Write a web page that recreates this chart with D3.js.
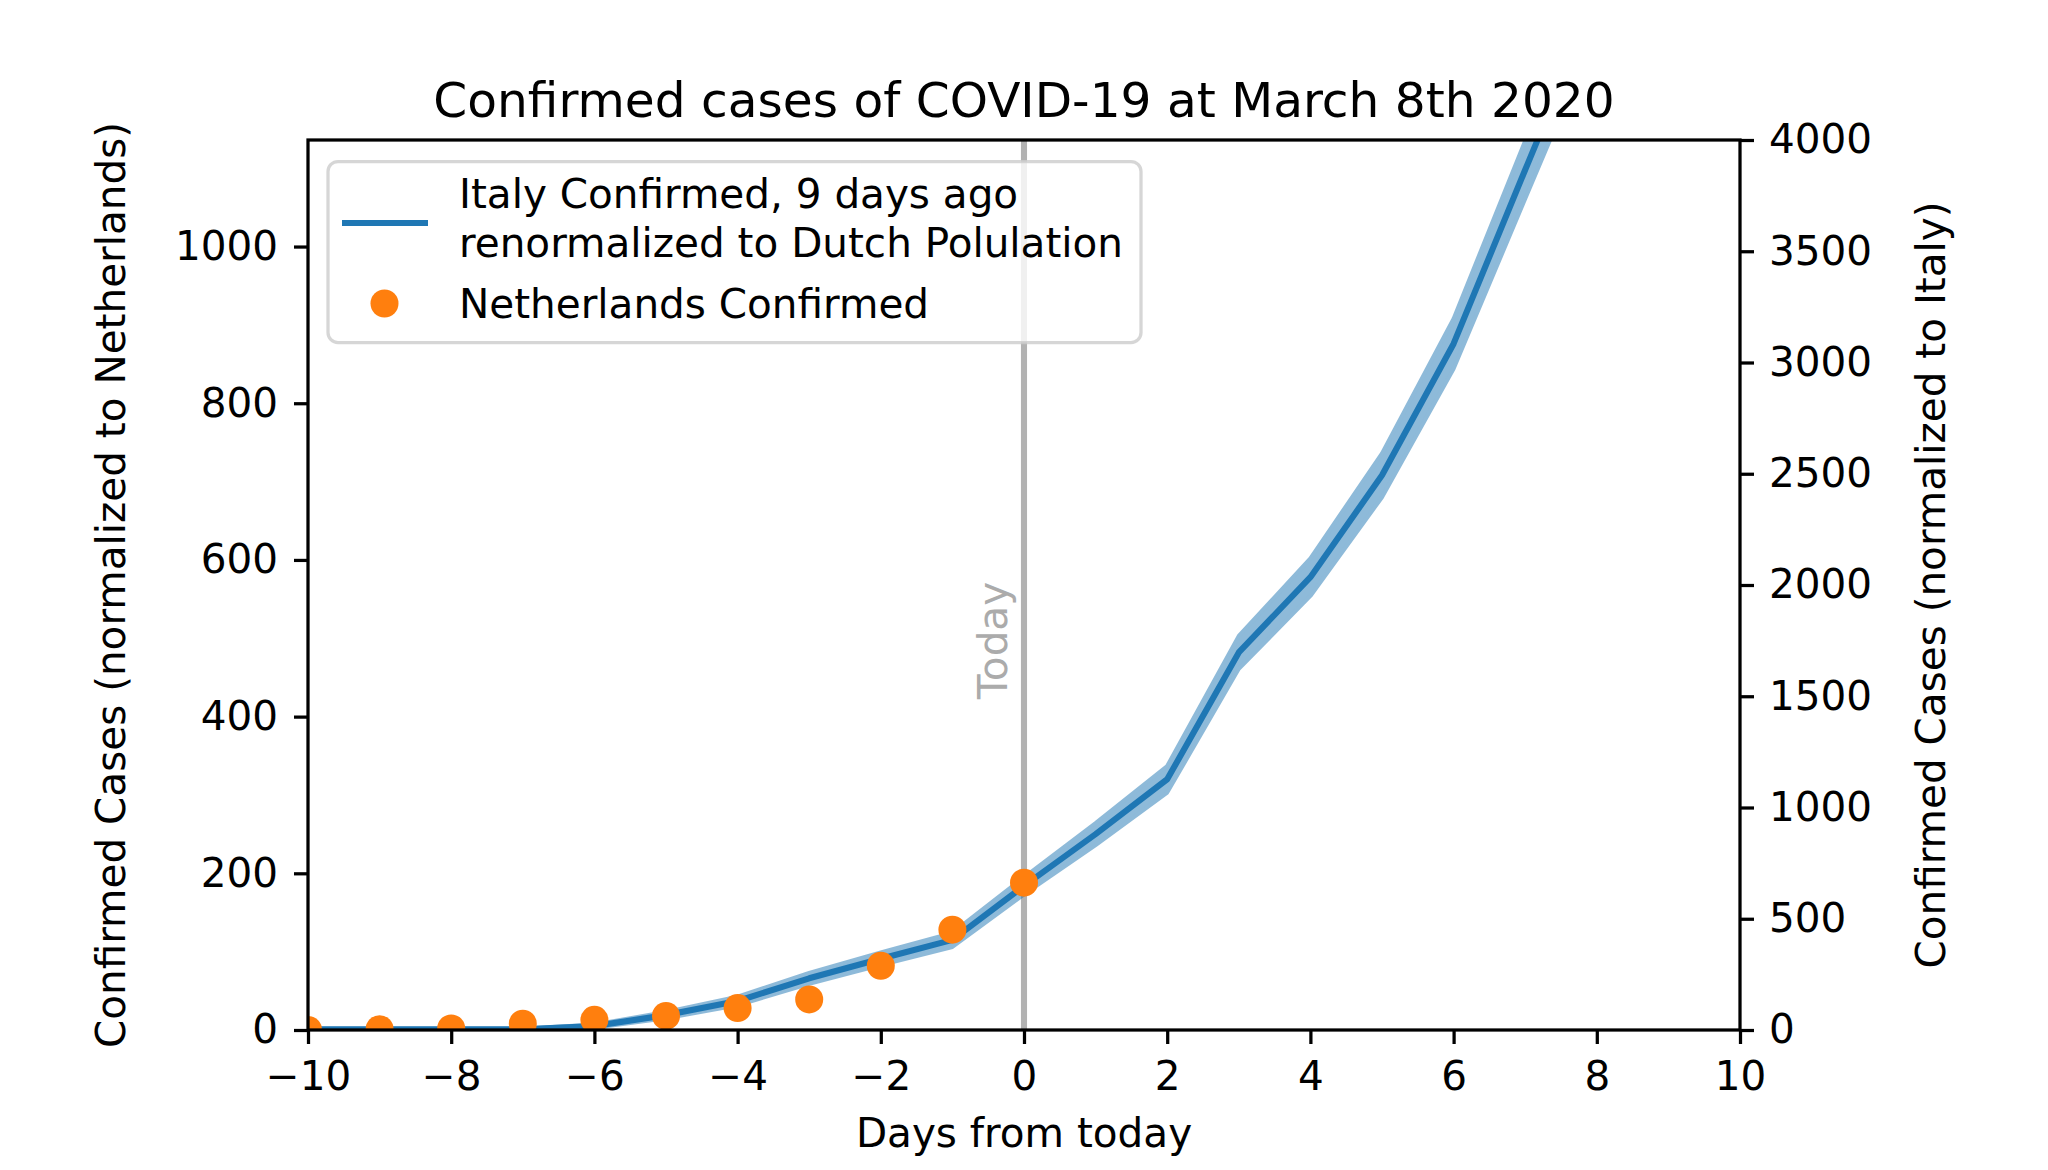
<!DOCTYPE html>
<html>
<head>
<meta charset="utf-8">
<script src="https://cdn.jsdelivr.net/npm/d3@7"></script>
<style>
  html, body { margin: 0; padding: 0; background: #ffffff; }
  svg text { font-family: "DejaVu Sans", sans-serif; }
</style>
</head>
<body>
<svg id="chart" width="2048" height="1170"></svg>
<script>
// ---------------- data ----------------
const italyDays  = [-10, -9, -8, -7, -6, -5, -4, -3, -2, -1, 0, 1, 2, 3, 4, 5, 6, 7, 8];
const italyCases = [1, 1, 1, 1, 5, 19, 37, 66, 91, 115, 184, 250, 320, 482, 578, 708, 876, 1098, 1318];
const italyBand  = [0.5, 0.5, 0.5, 0.5, 2, 4, 5.5, 7, 8, 9, 11, 14, 17, 21, 24, 28, 32, 37, 41];

const nlDays  = [-10, -9, -8, -7, -6, -5, -4, -3, -2, -1, 0];
const nlCases = [0, 1, 2, 8, 13, 18, 28, 39, 82, 128, 188];

const xDomain = [-10, 10];
const xTicks = [-10, -8, -6, -4, -2, 0, 2, 4, 6, 8, 10];
const yLeftDomain = [0, 1136];
const yLeftTicks = [0, 200, 400, 600, 800, 1000];
const yRightDomain = [0, 4000];
const yRightTicks = [0, 500, 1000, 1500, 2000, 2500, 3000, 3500, 4000];
const todayDay = 0;

const titleText = "Confirmed cases of COVID-19 at March 8th 2020";
const xLabel = "Days from today";
const yLeftLabel = "Confirmed Cases (normalized to Netherlands)";
const yRightLabel = "Confirmed Cases (normalized to Italy)";
const legendItaly = ["Italy Confirmed, 9 days ago", "renormalized to Dutch Polulation"];
const legendNL = "Netherlands Confirmed";

// ---------------- layout ----------------
const L = 308, R = 1740, T = 140, B = 1030;
const C0 = "#1f77b4", C1 = "#ff7f0e";
const FS = 40.5, FT = 48.6;

const svg = d3.select("#chart");
const x = d3.scaleLinear().domain(xDomain).range([L, R]);
const yL = d3.scaleLinear().domain(yLeftDomain).range([B, T]);
const yR = d3.scaleLinear().domain(yRightDomain).range([B, T]);

svg.append("rect").attr("width", 2048).attr("height", 1170).attr("fill", "#fff");

svg.append("defs").append("clipPath").attr("id", "plotclip")
  .append("rect").attr("x", L).attr("y", T).attr("width", R - L).attr("height", B - T);

const plot = svg.append("g").attr("clip-path", "url(#plotclip)");

// vertical "today" line
plot.append("line")
  .attr("x1", x(todayDay)).attr("x2", x(todayDay))
  .attr("y1", T).attr("y2", B)
  .attr("stroke", "#b2b2b2").attr("stroke-width", 6.1);

// Italy band
const italy = italyDays.map((d, i) => ({d, v: italyCases[i], e: italyBand[i]}));
const area = d3.area().x(p => x(p.d)).y0(p => yL(p.v - p.e)).y1(p => yL(p.v + p.e));
plot.append("g").attr("opacity", 0.5)
  .append("path").datum(italy).attr("d", area)
  .attr("fill", C0).attr("stroke", C0).attr("stroke-width", 4)
  .attr("stroke-linejoin", "round");

// Italy line
const line = d3.line().x(p => x(p.d)).y(p => yL(p.v));
plot.append("path").datum(italy).attr("d", line)
  .attr("fill", "none").attr("stroke", C0).attr("stroke-width", 6.1)
  .attr("stroke-linejoin", "round").attr("stroke-linecap", "square");

// Netherlands dots
plot.selectAll("circle.nl").data(nlDays.map((d, i) => ({d, v: nlCases[i]})))
  .enter().append("circle").attr("class", "nl")
  .attr("cx", p => x(p.d)).attr("cy", p => yL(p.v)).attr("r", 14)
  .attr("fill", C1);

// "Today" label
svg.append("text")
  .attr("transform", `translate(${x(todayDay) - 17},699) rotate(-90)`)
  .attr("text-anchor", "start")
  .attr("font-size", FS).attr("fill", "#ababab")
  .text("Today");

// ---------------- axes ----------------
function styleAxis(g) {
  g.select(".domain").remove();
  g.selectAll(".tick line").attr("stroke", "#000").attr("stroke-width", 3.25);
  g.selectAll(".tick text").attr("font-size", FS).attr("fill", "#000")
    .attr("font-family", "DejaVu Sans, sans-serif");
}
const intFmt = d3.format("d");

svg.append("g").attr("transform", `translate(0,${B})`)
  .call(d3.axisBottom(x).tickValues(xTicks).tickFormat(intFmt).tickSize(14).tickPadding(17).tickSizeOuter(0))
  .call(styleAxis);

svg.append("g").attr("transform", `translate(${L},0)`)
  .call(d3.axisLeft(yL).tickValues(yLeftTicks).tickFormat(intFmt).tickSize(14).tickPadding(16).tickSizeOuter(0))
  .call(styleAxis);

svg.append("g").attr("transform", `translate(${R},0)`)
  .call(d3.axisRight(yR).tickValues(yRightTicks).tickFormat(intFmt).tickSize(14).tickPadding(15).tickSizeOuter(0))
  .call(styleAxis);

// frame (spines)
svg.append("rect").attr("x", L).attr("y", T).attr("width", R - L).attr("height", B - T)
  .attr("fill", "none").attr("stroke", "#000").attr("stroke-width", 3.25);

// ---------------- labels ----------------
svg.append("text").attr("x", (L + R) / 2).attr("y", 117)
  .attr("text-anchor", "middle").attr("font-size", FT).attr("fill", "#000")
  .text(titleText);

svg.append("text").attr("x", (L + R) / 2).attr("y", 1147)
  .attr("text-anchor", "middle").attr("font-size", FS).attr("fill", "#000")
  .text(xLabel);

svg.append("text")
  .attr("transform", `translate(125,${(T + B) / 2}) rotate(-90)`)
  .attr("text-anchor", "middle").attr("font-size", FS).attr("fill", "#000")
  .text(yLeftLabel);

svg.append("text")
  .attr("transform", `translate(1945,${(T + B) / 2}) rotate(-90)`)
  .attr("text-anchor", "middle").attr("font-size", FS).attr("fill", "#000")
  .text(yRightLabel);

// ---------------- legend ----------------
const lg = svg.append("g");
lg.append("rect").attr("x", 328).attr("y", 161.5).attr("width", 813).attr("height", 181)
  .attr("rx", 10).attr("ry", 10)
  .attr("fill", "#fff").attr("fill-opacity", 0.8)
  .attr("stroke", "#cccccc").attr("stroke-opacity", 0.8).attr("stroke-width", 3.25);
lg.append("line").attr("x1", 342).attr("x2", 428).attr("y1", 223).attr("y2", 223)
  .attr("stroke", C0).attr("stroke-width", 6.1);
lg.append("text").attr("x", 459).attr("y", 208).attr("font-size", FS).attr("fill", "#000")
  .text(legendItaly[0]);
lg.append("text").attr("x", 459).attr("y", 257).attr("font-size", FS).attr("fill", "#000")
  .text(legendItaly[1]);
lg.append("circle").attr("cx", 384.5).attr("cy", 303.5).attr("r", 14).attr("fill", C1);
lg.append("text").attr("x", 459).attr("y", 318).attr("font-size", FS).attr("fill", "#000")
  .text(legendNL);
</script>
</body>
</html>
